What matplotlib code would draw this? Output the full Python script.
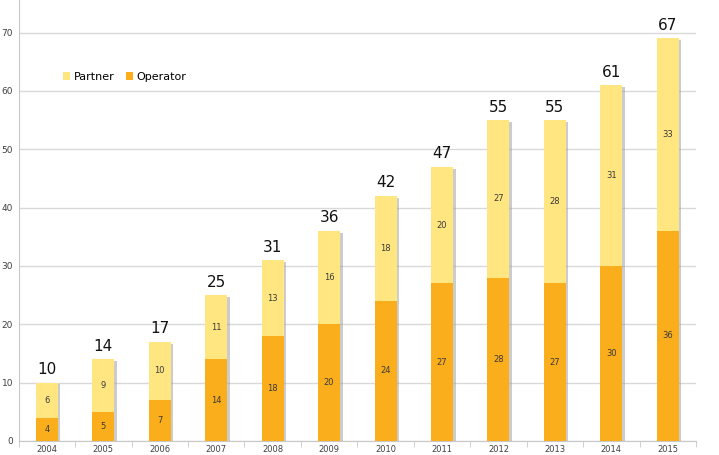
import matplotlib.pyplot as plt
import numpy as np

years = ['2004', '2005', '2006', '2007', '2008', '2009', '2010', '2011', '2012', '2013', '2014', '2015']
operator = [4, 5, 7, 14, 18, 20, 24, 27, 28, 27, 30, 36]
partner = [6, 9, 10, 11, 13, 16, 18, 20, 27, 28, 31, 33]
totals = [10, 14, 17, 25, 31, 36, 42, 47, 55, 55, 61, 67]

op_color = '#FBAE1B'
pa_color = '#FFE681'

fig = plt.figure(figsize=(7.19, 4.55), dpi=100)
ax = fig.add_axes([0.026, 0.031, 0.942, 0.969])

x = np.arange(len(years))
w = 0.39
tops = np.array(operator) + np.array(partner)

# drop shadow on the right of each bar
ax.bar(x + 0.045, tops, w, bottom=-0.3, color='#9a9a9a', alpha=0.5, zorder=2)
b_op = ax.bar(x, operator, w, color=op_color, zorder=3)
b_pa = ax.bar(x, partner, w, bottom=operator, color=pa_color, zorder=3)

for i in range(len(years)):
    ax.text(x[i], operator[i] / 2, str(operator[i]), ha='center', va='center',
            fontsize=6, color='#3a3a3a', zorder=4)
    ax.text(x[i], operator[i] + partner[i] / 2, str(partner[i]), ha='center', va='center',
            fontsize=6, color='#3a3a3a', zorder=4)
    ax.annotate(str(totals[i]), (x[i], tops[i]), xytext=(0, 4), textcoords='offset points',
                ha='center', va='bottom', fontsize=11, color='#111111')

ax.set_xlim(-0.5, len(years) - 0.5)
ax.set_ylim(0, 75.6)
ax.set_yticks(range(0, 80, 10))
ax.set_xticks(x)
ax.set_xticklabels(years)
ax.set_xticks(np.arange(-0.5, len(years), 1), minor=True)
ax.tick_params(axis='x', which='major', length=0, labelsize=6, colors='#404040', pad=3)
ax.tick_params(axis='x', which='minor', length=4, color='#c8c8c8')
ax.tick_params(axis='y', length=0, labelsize=6.5, colors='#404040', pad=4)
ax.grid(axis='y', color='#d9d9d9', linewidth=1, zorder=0)
ax.set_axisbelow(True)
for s in ['top', 'right']:
    ax.spines[s].set_visible(False)
ax.spines['left'].set_color('#c8c8c8')
ax.spines['bottom'].set_color('#c8c8c8')

ax.legend([b_pa, b_op], ['Partner', 'Operator'], loc='upper left', bbox_to_anchor=(0.05, 0.86),
          ncol=2, frameon=False, fontsize=8, handlelength=0.7, handleheight=0.7,
          handletextpad=0.3, columnspacing=1.0)

fig.savefig('out.png', dpi=100)
